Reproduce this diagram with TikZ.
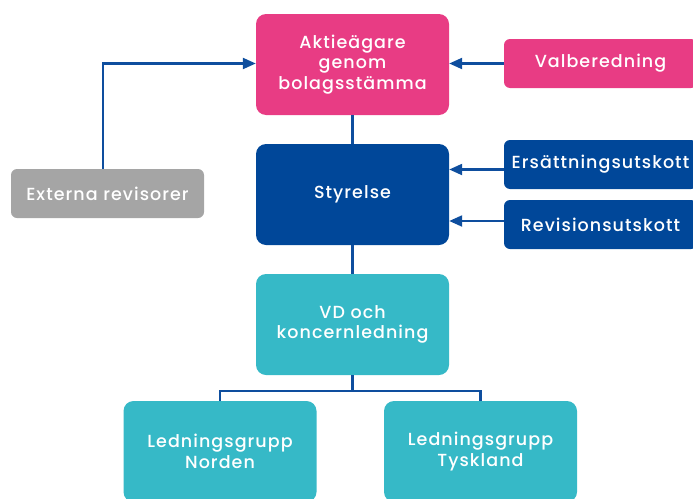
\documentclass[tikz,border=0pt]{standalone}
\usepackage{fontspec}
\setmainfont{Poppins Medium}[LetterSpace=6]
\usetikzlibrary{positioning,arrows.meta}

\definecolor{agarpink}{HTML}{E83C84}
\definecolor{styrblue}{HTML}{004799}
\definecolor{vdteal}{HTML}{36B9C7}
\definecolor{revgray}{HTML}{A5A5A5}
\definecolor{linkblue}{HTML}{0E4E9E}

\tikzset{
  bigbox/.style={rounded corners=10pt, text=white, align=center, inner sep=0pt,
    minimum width=193pt, minimum height=101pt, font=\fontsize{17.5}{20.5}\selectfont},
  smallbox/.style={rounded corners=6pt, text=white, align=center, inner sep=0pt,
    minimum width=193pt, minimum height=49pt, font=\fontsize{17.5}{20.5}\selectfont},
  link/.style={draw=linkblue, line width=2.2pt},
  arrowlink/.style={link, -{Triangle[length=13pt,width=11pt]}}
}

\begin{document}
\begin{tikzpicture}[x=1pt,y=-1pt]
  \useasboundingbox (0,0) rectangle (693,498);
  \clip (0,0) rectangle (693,498);

  % boxes
  \node [bigbox, fill=agarpink] (agare) at (352.5,64.5) {Aktieägare\\genom\\bolagsstämma};
  \node [bigbox, fill=styrblue] (styrelse) at (352.5,194.5) {Styrelse};
  \node [bigbox, fill=vdteal] (vd) at (352.5,324.5) {VD och\\koncernledning};
  \node [bigbox, fill=vdteal] (norden) at (220,451.5) {Ledningsgrupp\\Norden};
  \node [bigbox, fill=vdteal] (tyskland) at (480.5,451.5) {Ledningsgrupp\\Tyskland};

  \node [smallbox, fill=agarpink] (valb) at (600.5,63.5) {Valberedning};
  \node [smallbox, fill=styrblue] (ersatt) at (600.5,164.5) {Ersättningsutskott};
  \node [smallbox, fill=styrblue] (revis) at (600.5,224.5) {Revisionsutskott};
  \node [smallbox, fill=revgray] (extern) at (107.5,193.5) {Externa revisorer};

  % connectors
  \draw [link] (agare) -- (styrelse);
  \draw [link] (styrelse) -- (vd);

  \coordinate (fork) at (352.5,391);
  \draw [link] (vd.south) -- (fork);
  \draw [link] (norden.north) |- (fork) -| (tyskland.north);

  \draw [arrowlink] (valb.west) -- (valb.west -| agare.east);
  \draw [arrowlink] ([yshift=-5pt]ersatt.west) -- ([yshift=-5pt]ersatt.west -| styrelse.east);
  \draw [arrowlink] ([yshift=3.5pt]revis.west) -- ([yshift=3.5pt]revis.west -| styrelse.east);
  \draw [arrowlink] ([xshift=-4.5pt]extern.north) |- ([yshift=1pt]agare.west);
\end{tikzpicture}
\end{document}
